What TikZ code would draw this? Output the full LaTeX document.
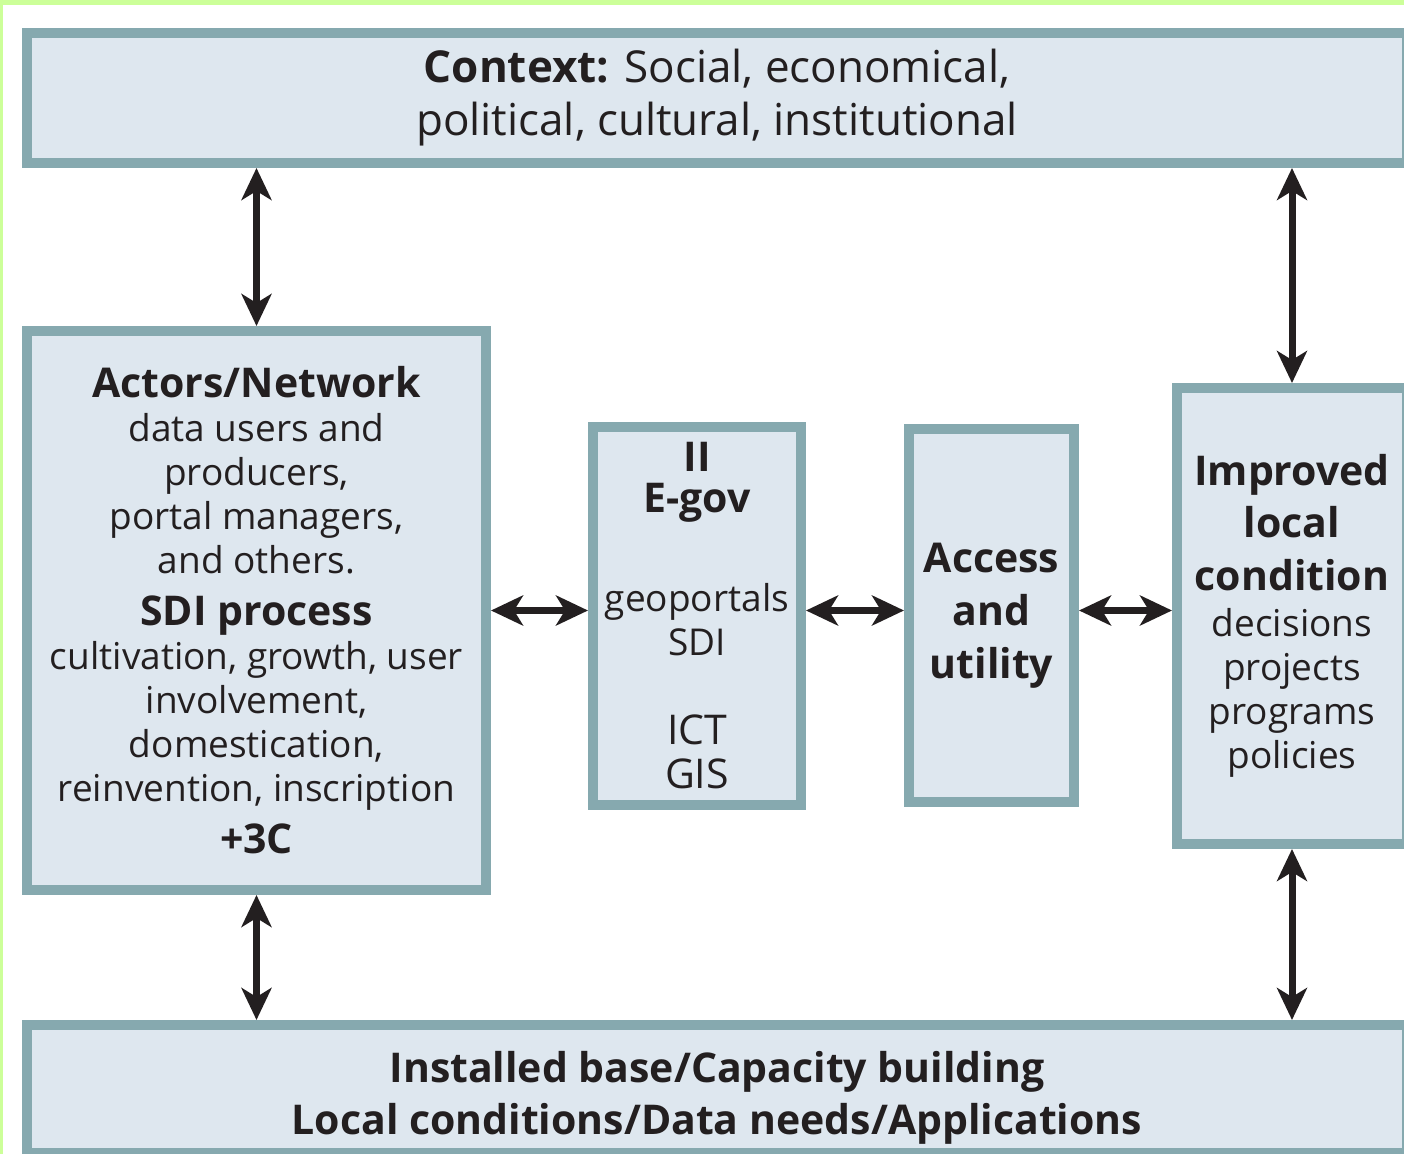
\documentclass[tikz,border=0pt]{standalone}
\usepackage{fontspec}
\setmainfont{Open Sans}
\usetikzlibrary{arrows.meta}
\definecolor{Colorfondo}{RGB}{222,231,239}
\definecolor{Colorborde}{RGB}{134,169,175}
\definecolor{Colormarco}{RGB}{204,255,153}
\definecolor{Colortexto}{RGB}{35,31,32}
\newcommand{\cabecera}{\fontsize{20.5}{26}\selectfont\bfseries}
\newcommand{\cuerpo}{\fontsize{18.5}{22}\selectfont}
\newcommand{\titular}{\fontsize{22}{26.5}\selectfont}

\begin{document}
\begin{tikzpicture}[x=0.5pt,y=-0.5pt,
 caja/.style={draw=Colorborde,fill=Colorfondo,line width=5pt,align=center,
   text=Colortexto,inner sep=0pt,font=\cuerpo},
 punta/.tip={Stealth[length=16pt,width=15pt,inset=4.5pt]},
 flecha/.style={punta-punta,line width=3.5pt,draw=Colortexto}]
\useasboundingbox (0,0) rectangle (1404,1154);
\clip (0,0) rectangle (1404,1154);
\fill[Colormarco] (0,0) rectangle (1404,5);
\fill[Colormarco] (0,0) rectangle (3,1154);

% cajas
\node[caja,minimum width=690pt,minimum height=65pt,font=\titular] (contexto) at (717,98)
 {\textbf{Context:} Social, economical,\\ political, cultural, institutional};
\node[caja,minimum width=229.5pt,minimum height=279.5pt] (actores) at (256.5,610.5)
 {{\cabecera Actors/Network}\\ data users and\\ producers,\\ portal managers,\\ and others.\\[4pt]
  {\cabecera SDI process}\\ cultivation, growth, user\\ involvement,\\ domestication,\\
  reinvention, inscription\\[4pt] {\cabecera +3C}};
\node[caja,minimum width=104pt,minimum height=189pt] (egov) at (697,616)
 {{\cabecera II}\\[-1.5pt] {\cabecera E-gov}\\[27.5pt] geoportals\\ SDI\\[22.5pt]
  {\cabecera\mdseries ICT}\\ {\cabecera\mdseries GIS}};
\node[caja,minimum width=82.5pt,minimum height=186.5pt] (acceso) at (991.5,615.5)
 {{\cabecera Access}\\[4.5pt] {\cabecera and}\\[4.5pt] {\cabecera utility}};
\node[caja,minimum width=115pt,minimum height=228pt] (mejora) at (1292,616)
 {{\cabecera Improved}\\[4pt] {\cabecera local}\\[4.5pt] {\cabecera condition}\\[1pt] decisions\\
  projects\\ programs\\ policies};
\node[caja,minimum width=690pt,minimum height=64pt,font=\fontsize{20.5}{26}\selectfont\bfseries] (base) at (717,1089)
 {\rule{0pt}{24pt}Installed base/Capacity building\\ Local conditions/Data needs/Applications};

% flechas
\draw[flecha] (contexto.south -| actores) -- (actores.north);
\draw[flecha] (contexto.south -| mejora) -- (mejora.north);
\draw[flecha] (actores.south) -- (base.north -| actores);
\draw[flecha] (mejora.south) -- (base.north -| mejora);
\draw[flecha] (actores.east) -- (actores.east -| egov.west);
\draw[flecha] (egov.east |- actores.east) -- (acceso.west |- actores.east);
\draw[flecha] (acceso.east |- actores.east) -- (mejora.west |- actores.east);
\end{tikzpicture}
\end{document}
